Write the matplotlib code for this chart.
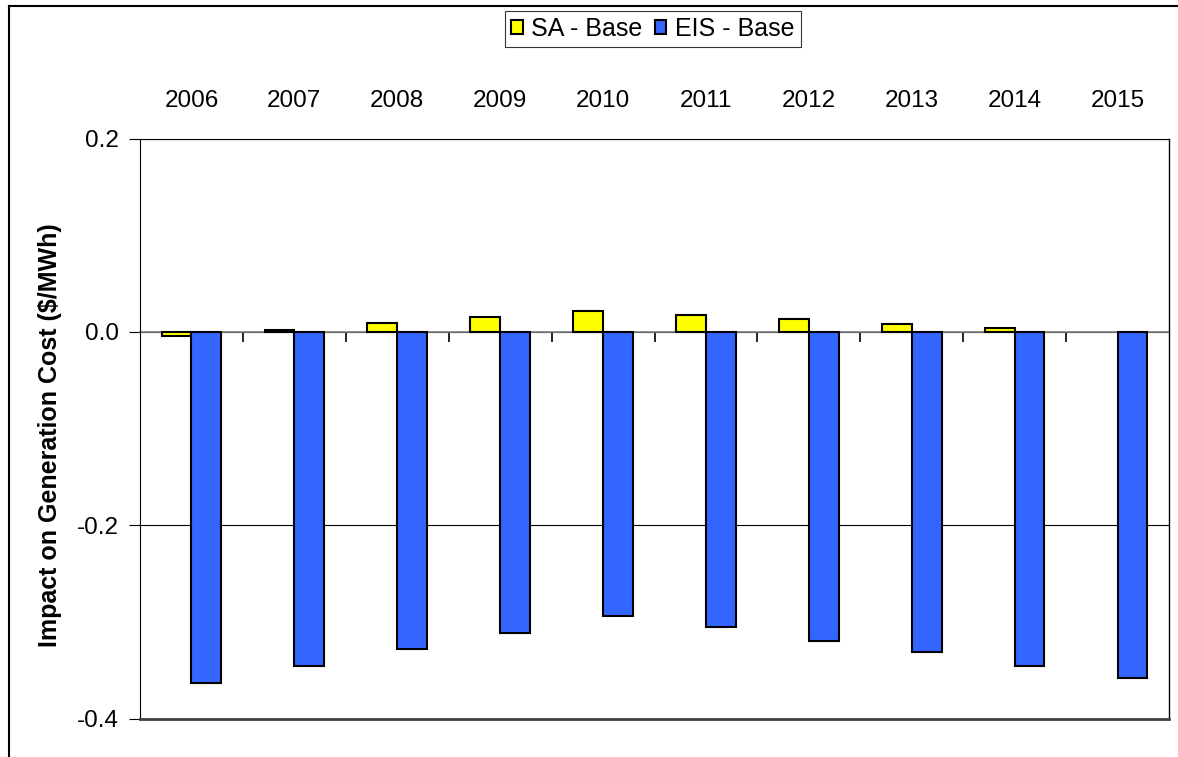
import matplotlib
matplotlib.use("Agg")
import matplotlib.pyplot as plt
import numpy as np
from matplotlib.lines import Line2D

years = ["2006", "2007", "2008", "2009", "2010", "2011", "2012", "2013", "2014", "2015"]
sa_base = [-0.0044, 0.0022, 0.0089, 0.0151, 0.0212, 0.0174, 0.0129, 0.0085, 0.0044, 0.0]
eis_base = [-0.363, -0.3455, -0.3276, -0.3117, -0.2935, -0.3055, -0.3196, -0.3313, -0.3455, -0.3576]

plt.rcParams['font.family'] = ['Liberation Sans', 'DejaVu Sans']

W, H = 1178, 757
fig = plt.figure(figsize=(W / 100, H / 100), dpi=100)
ax = fig.add_axes([140 / W, 1 - 718.5 / H, (1169 - 140) / W, (718.5 - 138.5) / H])

x = np.arange(len(years))
bw = 0.29
# Excel does not draw zero-height bars
sa_plot = np.where(np.array(sa_base) == 0, np.nan, sa_base)
ax.bar(x - bw / 2, sa_plot, width=bw, color="#ffff00", edgecolor="black", linewidth=1.5,
       label="SA - Base", zorder=3)
ax.bar(x + bw / 2, eis_base, width=bw, color="#3366ff", edgecolor="black", linewidth=1.5,
       label="EIS - Base", zorder=3)

ax.set_xlim(-0.5, len(years) - 0.5)
ax.set_ylim(-0.4, 0.2)
ax.set_yticks([-0.4, -0.2, 0.0, 0.2])
ax.set_yticklabels(["-0.4", "-0.2", "0.0", "0.2"])
ax.yaxis.grid(True, color="black", linewidth=0.8, zorder=0)
ax.set_axisbelow(True)

# x axis at zero, labels on top
ax.spines['bottom'].set_position(('data', 0))
ax.spines['bottom'].set_color('#808080')
ax.spines['bottom'].set_linewidth(1.2)
ax.spines['bottom'].set_zorder(2)
ax.spines['top'].set_linewidth(0.8)
ax.spines['left'].set_linewidth(0.8)
ax.spines['right'].set_linewidth(1.0)
ax.set_xticks(x)
ax.set_xticklabels(years)
ax.set_xticks(np.arange(len(years) + 1)[1:-1] - 0.5, minor=True)
ax.tick_params(axis='x', which='major', bottom=False, top=False, labelbottom=False,
               labeltop=True, length=0, pad=19, labelsize=17.5)
ax.tick_params(axis='x', which='minor', bottom=True, top=False, direction='out',
               length=7, width=1.2, color='black')
ax.tick_params(axis='y', which='major', direction='out', length=8, width=0.8,
               labelsize=17.5, pad=7)

# bottom line of plot area
ax.axhline(-0.4, color='#404040', linewidth=2.0, zorder=4, clip_on=False)

ax.set_ylabel("Impact on Generation Cost ($/MWh)", fontsize=18, fontweight='bold')
ax.yaxis.set_label_coords((62 - 140) / (1169 - 140), (718.5 - 435) / (718.5 - 138.5))

# legend
leg = ax.legend(loc='center', bbox_to_anchor=(653 / W, 1 - 29 / H), bbox_transform=fig.transFigure,
                ncol=2, frameon=True, fancybox=False, edgecolor='black', fontsize=18,
                handlelength=0.45, handleheight=0.45, handletextpad=0.35, columnspacing=0.5,
                borderpad=0.25, borderaxespad=0)
leg.get_frame().set_linewidth(0.8)

# outer chart border (left and top)
fig.add_artist(Line2D([8.5 / W, 8.5 / W], [0, 1 - 6 / H], transform=fig.transFigure,
                      color='black', linewidth=1.5))
fig.add_artist(Line2D([8.5 / W, 1], [1 - 6 / H, 1 - 6 / H], transform=fig.transFigure,
                      color='black', linewidth=1.5))

fig.savefig("out.png", dpi=100)
